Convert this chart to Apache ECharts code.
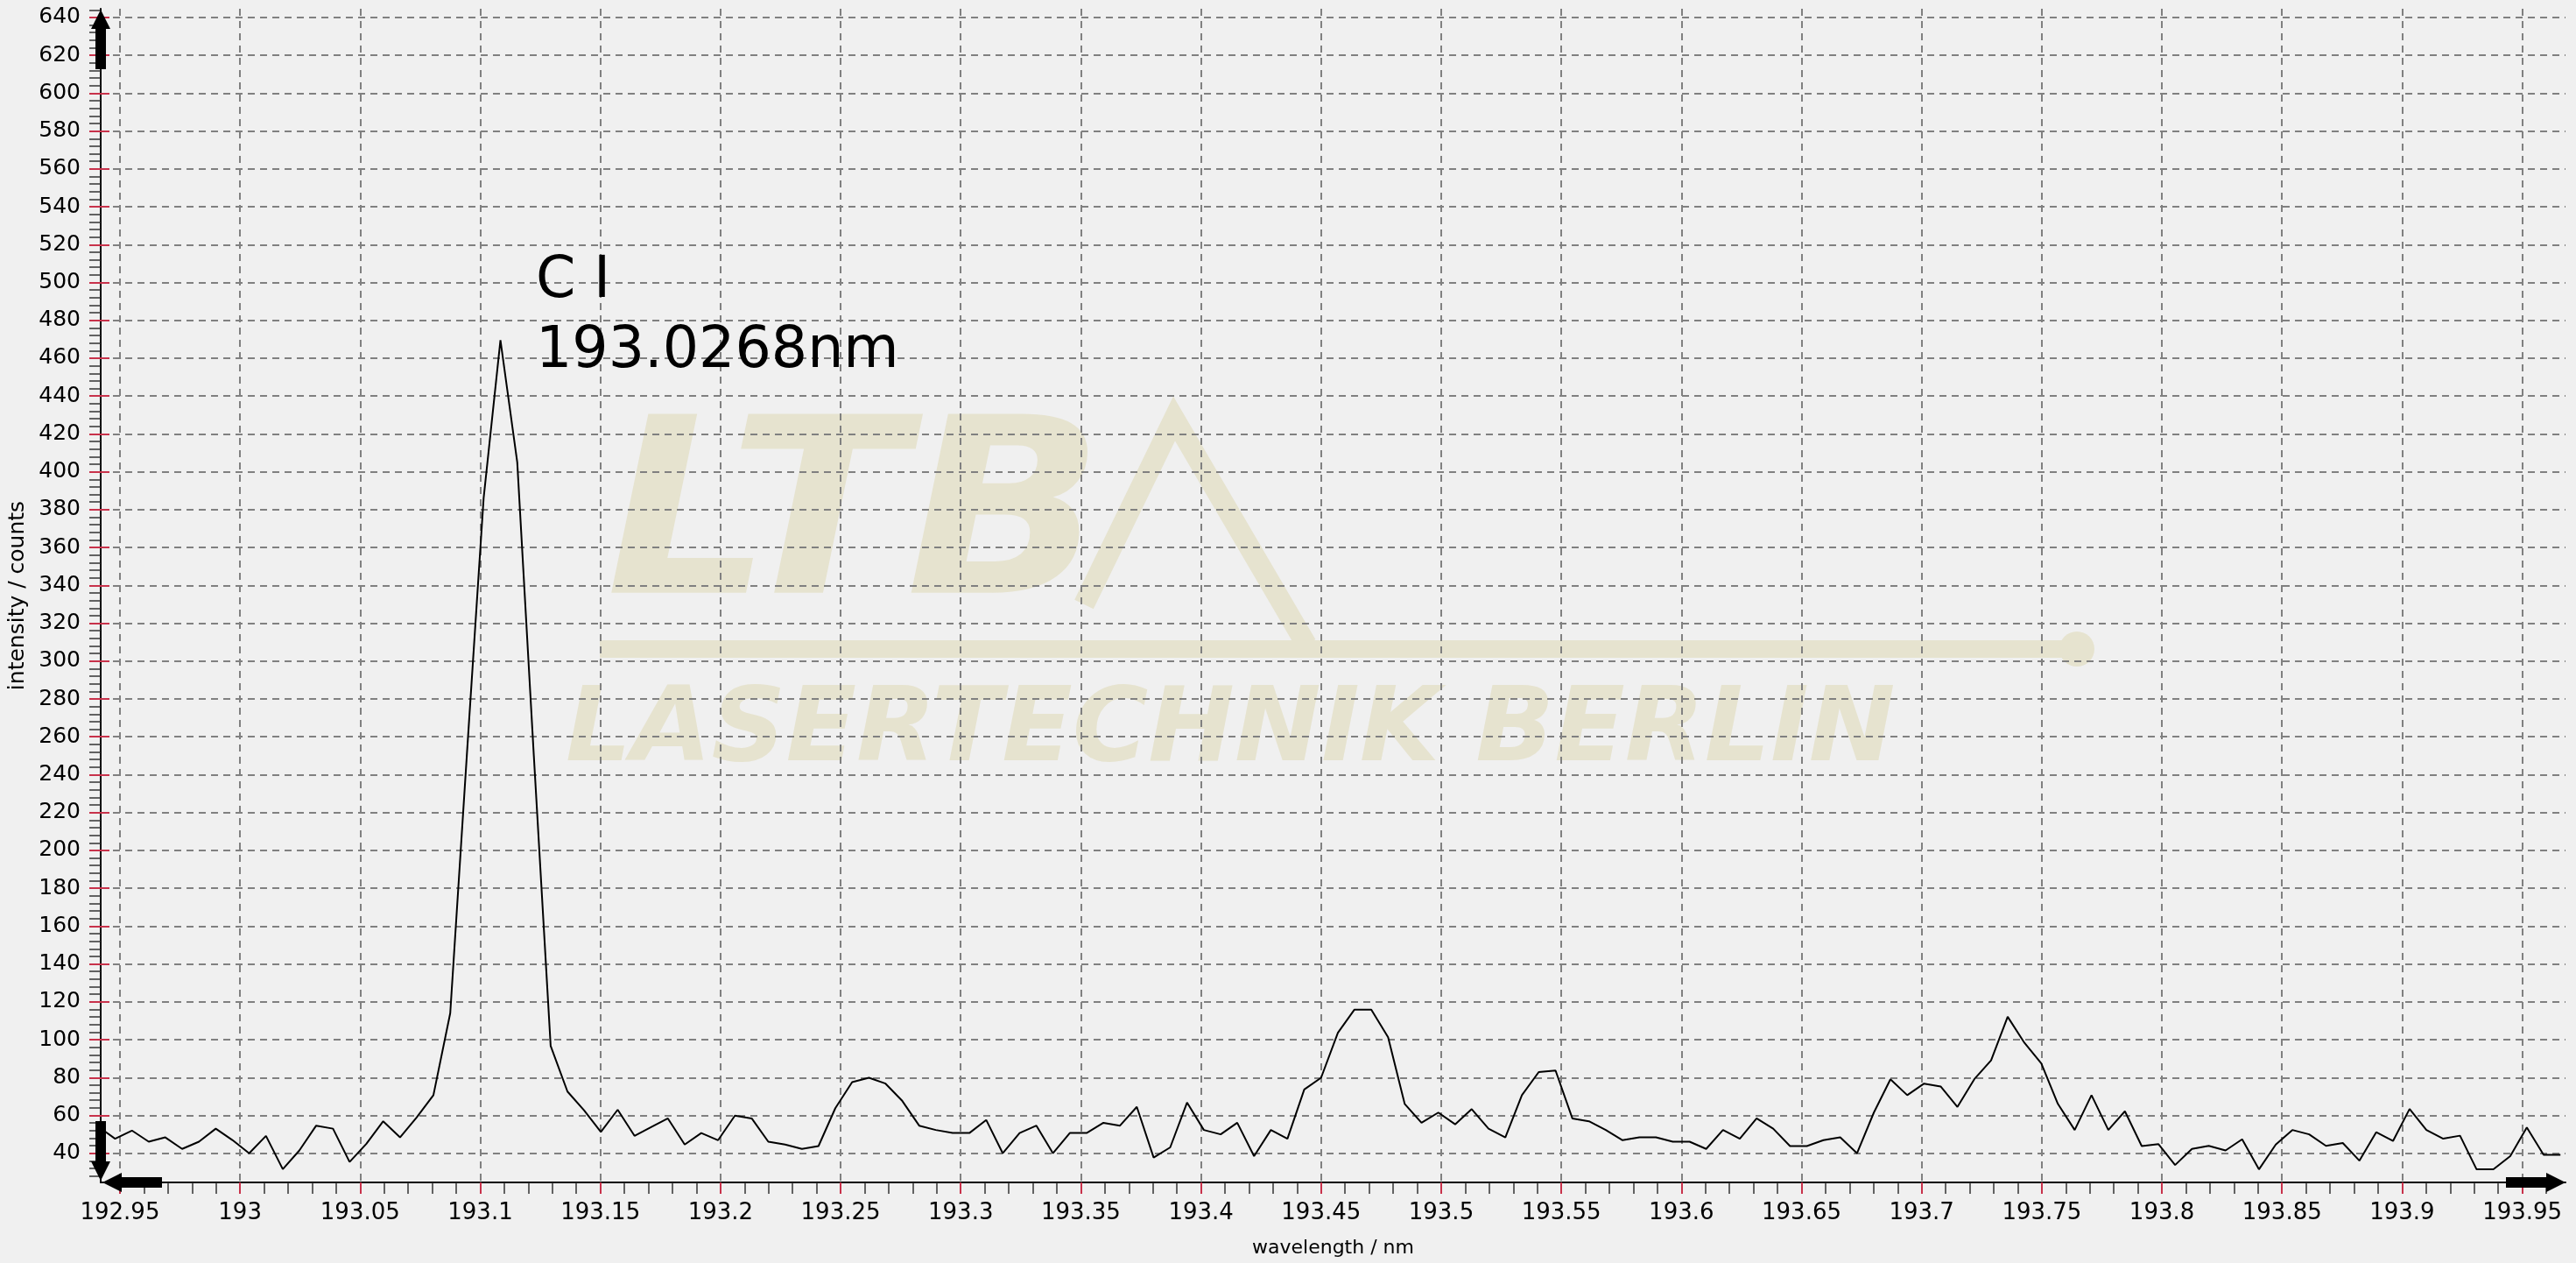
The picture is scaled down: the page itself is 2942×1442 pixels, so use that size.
<!DOCTYPE html>
<html>
<head>
<meta charset="utf-8">
<script src="https://cdn.jsdelivr.net/npm/echarts@6/dist/echarts.min.js"></script>
<style>
  html, body { margin: 0; padding: 0; background: #f0f0f0; }
  #chart { width: 2942px; height: 1442px; }
</style>
</head>
<body>
<div id="chart"></div>
<script>
// ---- data ----
const wavelength = [
  192.9411, 192.9480, 192.9550, 192.9620, 192.9689, 192.9759, 192.9829, 192.9899, 192.9968, 193.0038,
  193.0108, 193.0178, 193.0247, 193.0317, 193.0387, 193.0456, 193.0526, 193.0596, 193.0666, 193.0735,
  193.0805, 193.0875, 193.0944, 193.1014, 193.1084, 193.1154, 193.1223, 193.1293, 193.1363, 193.1432,
  193.1502, 193.1572, 193.1642, 193.1711, 193.1781, 193.1851, 193.1920, 193.1990, 193.2060, 193.2130,
  193.2199, 193.2269, 193.2339, 193.2408, 193.2478, 193.2548, 193.2618, 193.2687, 193.2757, 193.2827,
  193.2896, 193.2966, 193.3036, 193.3106, 193.3175, 193.3245, 193.3315, 193.3384, 193.3454, 193.3524,
  193.3594, 193.3663, 193.3733, 193.3803, 193.3872, 193.3942, 193.4012, 193.4082, 193.4151, 193.4221,
  193.4291, 193.4360, 193.4430, 193.4500, 193.4570, 193.4639, 193.4709, 193.4779, 193.4848, 193.4918,
  193.4988, 193.5058, 193.5127, 193.5197, 193.5267, 193.5336, 193.5406, 193.5476, 193.5546, 193.5615,
  193.5685, 193.5755, 193.5825, 193.5894, 193.5964, 193.6034, 193.6103, 193.6173, 193.6243, 193.6313,
  193.6382, 193.6452, 193.6522, 193.6591, 193.6661, 193.6731, 193.6801, 193.6870, 193.6940, 193.7010,
  193.7079, 193.7149, 193.7219, 193.7289, 193.7358, 193.7428, 193.7498, 193.7567, 193.7637, 193.7707,
  193.7777, 193.7846, 193.7916, 193.7986, 193.8055, 193.8125, 193.8195, 193.8265, 193.8334, 193.8404,
  193.8474, 193.8543, 193.8613, 193.8683, 193.8753, 193.8822, 193.8892, 193.8962, 193.9031, 193.9101,
  193.9171, 193.9241, 193.9310, 193.9380, 193.9450, 193.9519, 193.9589, 193.9659
];
const intensity = [
  54, 47.7, 52, 46.1, 48.4, 42.3, 46.1, 53, 47, 40,
  49.2, 31.6, 41.5, 54.6, 53, 35.4, 45, 56.9, 48.4, 58.9,
  70.7, 114, 250, 386, 469.5, 405, 250, 96.7, 72.6, 62.7,
  51.3, 63, 49.2, 53.8, 58.4, 44.6, 50.7, 46.9, 59.9, 58.4,
  46.1, 44.6, 42.3, 43.8, 63.8, 77.6, 79.9, 76.8, 67.6, 54.6,
  52.3, 50.7, 50.7, 57.6, 40, 50.7, 54.6, 40, 50.7, 50.7,
  56.1, 54.6, 64.5, 37.7, 43.1, 66.8, 52.3, 50, 56.1, 38.5,
  52.3, 47.7, 73.7, 79.9, 103.7, 115.9, 115.9, 101.3, 66.1, 56.1,
  61.5, 55.3, 63.3, 53, 48.4, 70.7, 82.9, 83.7, 58.4, 56.9,
  52.3, 46.9, 48.4, 48.4, 46.1, 46.1, 42.3, 52.3, 47.7, 58.4,
  53, 43.8, 43.8, 46.9, 48.4, 40, 61.5, 79.1, 70.7, 76.8,
  75.3, 64.5, 79.1, 89.1, 112.1, 98.3, 87.5, 66.1, 52.3, 70.7,
  52.3, 62.2, 43.8, 44.8, 33.8, 42.3, 43.9, 41.5, 47.4, 31.5,
  44.6, 52.3, 50, 43.9, 45.4, 36.1, 51.1, 46.5, 63.4, 52.3,
  47.7, 49.3, 31.5, 31.5, 38.5, 53.6, 39.2, 39.2
];

const xMajorTicks = [192.95, 193, 193.05, 193.1, 193.15, 193.2, 193.25, 193.3, 193.35, 193.4, 193.45,
  193.5, 193.55, 193.6, 193.65, 193.7, 193.75, 193.8, 193.85, 193.9, 193.95];
const xTickLabels = ['192.95', '193', '193.05', '193.1', '193.15', '193.2', '193.25', '193.3', '193.35', '193.4', '193.45',
  '193.5', '193.55', '193.6', '193.65', '193.7', '193.75', '193.8', '193.85', '193.9', '193.95'];
const yMajorTicks = [40, 60, 80, 100, 120, 140, 160, 180, 200, 220, 240, 260, 280, 300, 320, 340, 360, 380,
  400, 420, 440, 460, 480, 500, 520, 540, 560, 580, 600, 620, 640];
const yTickLabels = ['40', '60', '80', '100', '120', '140', '160', '180', '200', '220', '240', '260', '280', '300',
  '320', '340', '360', '380', '400', '420', '440', '460', '480', '500', '520', '540', '560', '580', '600', '620', '640'];

const peakLabel = 'C I\n193.0268nm';
const xName = 'wavelength / nm';
const yName = 'intensity / counts';

const X_MIN = 192.942, X_MAX = 193.968;
const Y_MIN = 24.6, Y_MAX = 644.6;

// minor tick positions (every 0.01 nm and every 4 counts)
const xMinorTicks = [];
for (let k = 0; k <= 101; k++) {
  const v = Math.round((192.95 + k * 0.01) * 100) / 100;
  if (k % 5 !== 0) xMinorTicks.push(v);
}
const yMinorTicks = [];
for (let v = 28; v <= 644; v += 4) { if (v % 20 !== 0) yMinorTicks.push(v); }

function labelFor(ticks, labels) {
  return function (v) {
    for (let i = 0; i < ticks.length; i++) if (Math.abs(ticks[i] - v) < 1e-6) return labels[i];
    return '';
  };
}

const ARROW = 'path://M11,0 L22,22 L17,22 L17,68 L5,68 L5,22 L0,22 Z';
const FONT = 'DejaVu Sans';
const RED = '#c8324b';
const GRID = '#808080';
const WM = '#e6e3cf';

const chart = echarts.init(document.getElementById('chart'), null, { renderer: 'canvas' });
chart.setOption({
  animation: false,
  backgroundColor: '#f0f0f0',
  grid: { left: 113, right: 12, top: 10, bottom: 92, containLabel: false },
  graphic: [
    { type: 'text', x: 692, y: 464, scaleX: 1.06, z: -10, silent: true,
      style: { text: 'LTB', font: 'italic bold 280px "DejaVu Sans"', fill: WM } },
    { type: 'polyline', z: -10, silent: true,
      shape: { points: [[1238, 690], [1341, 478], [1492, 736]] },
      style: { stroke: WM, lineWidth: 24, fill: null, lineJoin: 'miter' } },
    { type: 'line', z: -10, silent: true,
      shape: { x1: 685, y1: 741, x2: 2365, y2: 741 },
      style: { stroke: WM, lineWidth: 20 } },
    { type: 'circle', z: -10, silent: true,
      shape: { cx: 2372, cy: 741, r: 20 }, style: { fill: WM } },
    { type: 'text', x: 646, y: 778, z: -10, silent: true,
      style: { text: 'LASERTECHNIK BERLIN', font: 'italic bold 118px "DejaVu Sans"', fill: WM } },
    { type: 'text', x: 612, y: 282, z: 50, silent: true,
      style: { text: peakLabel, font: '65px "DejaVu Sans"', lineHeight: 80, fill: '#000' } }
  ],
  xAxis: [
    {
      type: 'value', min: X_MIN, max: X_MAX, position: 'bottom',
      name: xName, nameLocation: 'middle', nameGap: 64,
      nameTextStyle: { fontFamily: FONT, fontSize: 22, color: '#000' },
      axisLine: { show: true, lineStyle: { color: '#000', width: 2 },
        symbol: [ARROW, ARROW], symbolSize: [22, 68], symbolOffset: [36, -34] },
      axisTick: { show: true, customValues: xMajorTicks, length: 13, lineStyle: { color: RED, width: 2 } },
      axisLabel: { show: true, customValues: xMajorTicks, formatter: labelFor(xMajorTicks, xTickLabels),
        margin: 22, fontFamily: FONT, fontSize: 26, color: '#000' },
      splitLine: { show: true, lineStyle: { color: GRID, width: 2, type: [8, 6] } },
      minorTick: { show: false }
    },
    {
      type: 'value', min: X_MIN, max: X_MAX, position: 'bottom',
      axisLine: { show: false },
      axisTick: { show: true, customValues: xMinorTicks, length: 13, lineStyle: { color: '#333', width: 1.5 } },
      axisLabel: { show: false },
      splitLine: { show: false }
    }
  ],
  yAxis: [
    {
      type: 'value', min: Y_MIN, max: Y_MAX, position: 'left',
      name: yName, nameLocation: 'middle', nameGap: 82, nameRotate: 90,
      nameTextStyle: { fontFamily: FONT, fontSize: 25, color: '#000' },
      axisLine: { show: true, lineStyle: { color: '#000', width: 2 },
        symbol: [ARROW, ARROW], symbolSize: [24, 68], symbolOffset: [36, -35] },
      axisTick: { show: true, customValues: yMajorTicks, length: 13, lineStyle: { color: RED, width: 2 } },
      axisLabel: { show: true, customValues: yMajorTicks, formatter: labelFor(yMajorTicks, yTickLabels),
        margin: 23, fontFamily: FONT, fontSize: 25, color: '#000' },
      splitLine: { show: true, lineStyle: { color: GRID, width: 2, type: [8, 6] } }
    },
    {
      type: 'value', min: Y_MIN, max: Y_MAX, position: 'left',
      axisLine: { show: false },
      axisTick: { show: true, customValues: yMinorTicks, length: 13, lineStyle: { color: '#333', width: 1.5 } },
      axisLabel: { show: false },
      splitLine: { show: false }
    },
    {
      type: 'value', min: Y_MIN, max: Y_MAX, position: 'left',
      axisLine: { show: false },
      axisTick: { show: true, inside: true, customValues: yMajorTicks, length: 10, lineStyle: { color: RED, width: 2 } },
      axisLabel: { show: false },
      splitLine: { show: false }
    }
  ],
  series: [
    {
      type: 'line', xAxisIndex: 0, yAxisIndex: 0,
      data: wavelength.map((w, i) => [w, intensity[i]]),
      symbol: 'none', smooth: false, clip: true,
      lineStyle: { color: '#000', width: 2 },
      z: 5
    }
  ]
});
</script>
</body>
</html>
